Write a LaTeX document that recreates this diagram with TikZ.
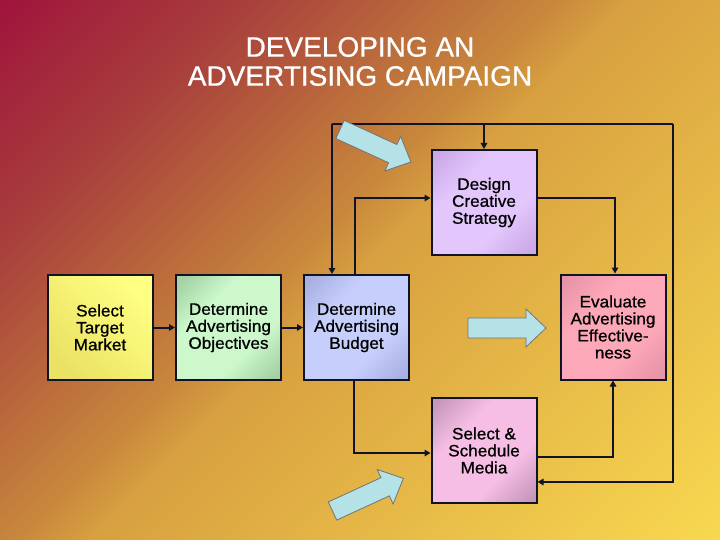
\documentclass[tikz,border=0pt]{standalone}
\usepackage{fontspec}
\setmainfont{Liberation Sans}
\newfontfamily\boxfont[FakeStretch=1.04, FakeBold=0.8]{Liberation Sans}
\newfontfamily\titlefont[FakeBold=0.8]{Liberation Sans}
\usetikzlibrary{arrows.meta}
\definecolor{bg0}{HTML}{A0143C}
\definecolor{bg1}{HTML}{A8403C}
\definecolor{bg2}{HTML}{C8883C}
\definecolor{bg3}{HTML}{D8A040}
\definecolor{bg4}{HTML}{E8BC48}
\definecolor{bg5}{HTML}{F8D850}
\pgfdeclareverticalshading{bgshade}{100bp}{color(0bp)=(bg5); color(14.6bp)=(bg5); color(32.3bp)=(bg4); color(50bp)=(bg3); color(54.2bp)=(bg2); color(71.2bp)=(bg1); color(85.4bp)=(bg0); color(100bp)=(bg0)}
\pgfdeclareverticalshading[bdk,blt]{boxshade}{100bp}{color(0bp)=(bdk); color(18bp)=(bdk); color(36bp)=(blt); color(64bp)=(blt); color(82bp)=(bdk); color(100bp)=(bdk)}
\definecolor{ink}{HTML}{101426}
\definecolor{cyanarrow}{HTML}{B4E2E6}
\definecolor{yelD}{HTML}{EAE264}
\definecolor{yelL}{HTML}{FFFF82}
\tikzset{
  box/.style={draw=ink, line width=2pt, minimum width=105pt, minimum height=105pt,
    inner sep=0pt, align=center, text=black,
    font=\boxfont\fontsize{16.5}{17}\selectfont},
  boxcol/.style 2 args={/utils/exec={\definecolor{bdk}{HTML}{#1}\definecolor{blt}{HTML}{#2}},
    shading=boxshade, shading angle=45},
  conn/.style={draw=ink, line width=2pt, -{Triangle[length=6pt,width=6.5pt]}},
  plainline/.style={draw=ink, line width=2pt},
  bigarrow/.style={draw=black!55, line width=0.8pt, fill=cyanarrow},
  title/.style={text=white, align=center, font=\titlefont\fontsize{28}{29}\selectfont}
}
\begin{document}
\begin{tikzpicture}[x=1pt,y=-1pt]
\useasboundingbox (0,0) rectangle (720,540);
\shade[shading=bgshade, shading angle=45] (0,0) rectangle (720,540);

\node[title] (ttl) at (360,61.5) {DEVELOPING AN\\ADVERTISING CAMPAIGN};

% boxes
\node[box, top color=yelL, bottom color=yelD, shading angle=-45] (sel) at (100,327.5) {Select\\Target\\Market};
\node[box, boxcol={A4D2A4}{CCF8CC}] (obj) at (228.5,327.5) {Determine\\Advertising\\Objectives};
\node[box, boxcol={A8B0E2}{C6CEFC}] (bud) at (356.5,327.5) {Determine\\Advertising\\Budget};
\node[box, boxcol={CCA8E8}{E2C6FC}] (des) at (484,202.5) {Design\\Creative\\Strategy};
\node[box, boxcol={E894A8}{FCA8B8}] (eva) at (613,327) {Evaluate\\Advertising\\Effective-\\ness};
\node[box, boxcol={C898BC}{F6BEE4}] (med) at (484,450.5) {Select \&\\Schedule\\Media};

% helper coordinates
\coordinate (tl) at (332,124);
\coordinate (tr) at (673,124);
\coordinate (rb) at (673,482);
\coordinate (bd) at (355,198);
\coordinate (de) at (615,198);
\coordinate (bm) at (354,453);
\coordinate (me) at (613,457);

% connectors
\draw[conn] (sel) -- (obj);
\draw[conn] (obj) -- (bud);
\draw[plainline] (tl) -- (tr);
\draw[conn] (tl) -- (tl |- bud.north);
\draw[conn] (tl -| des.north) -- (des.north);
\draw[conn] (tr) -- (rb) -- (med.east |- rb);
\draw[conn] (bd |- bud.north) -- (bd) -- (des.west |- bd);
\draw[conn] (des.east |- de) -- (de) -- (de |- eva.north);
\draw[conn] (bm |- bud.south) -- (bm) -- (med.west |- bm);
\draw[conn] (med.east |- me) -- (me) -- (me |- eva.south);

% block arrows
\def\blockarrow{(0,-10) -- (58,-10) -- (58,-19) -- (78,0) -- (58,19) -- (58,10) -- (0,10) -- cycle}
\draw[bigarrow, shift={(340,129.5)}, rotate=-24.6] \blockarrow;
\draw[bigarrow, shift={(468,328)}] \blockarrow;
\draw[bigarrow, shift={(332.5,511)}, rotate=24.7] \blockarrow;
\end{tikzpicture}
\end{document}
